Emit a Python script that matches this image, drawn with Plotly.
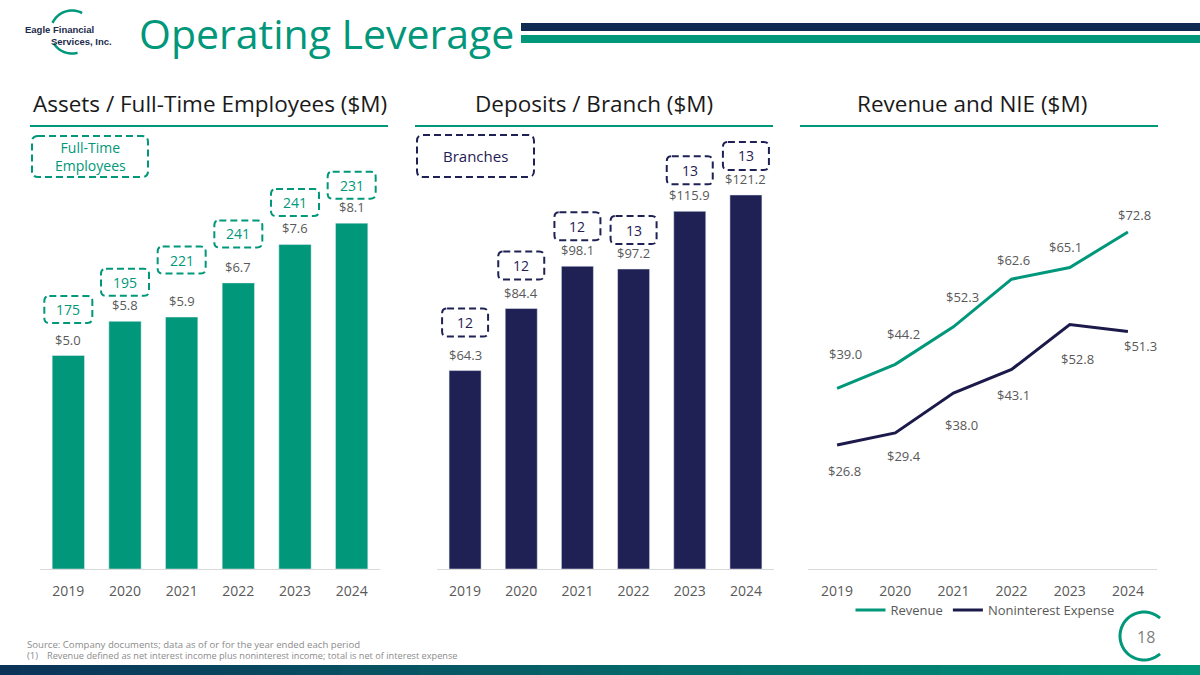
import math
import plotly.graph_objects as go

# ---------------- data ----------------
years = ["2019", "2020", "2021", "2022", "2023", "2024"]
assets_per_fte = [5.0, 5.8, 5.9, 6.7, 7.6, 8.1]
fte_counts = [175, 195, 221, 241, 241, 231]
deposits_per_branch = [64.3, 84.4, 98.1, 97.2, 115.9, 121.2]
branch_counts = [12, 12, 12, 13, 13, 13]
revenue = [39.0, 44.2, 52.3, 62.6, 65.1, 72.8]
nonint_expense = [26.8, 29.4, 38.0, 43.1, 52.8, 51.3]

# ---------------- styles / label placement (pixels) ----------------
fte_box_lift = [46, 39, 57, 49, 42, 38]
branch_box_lift = [48, 43, 40, 39, 41, 39]
rev_label_shift = [(8, 34), (8, 30), (9, 30), (2, 19), (-4, 21), (7, 17)]
nie_label_shift = [(7, -26), (9, -23), (8, -32), (2, -26), (8, -34), (13, -15)]

W, H = 1200, 675
TEAL = "#00977A"
NAVY = "#1F2155"
LINE_NAVY = "#1B1A4A"
HEAD_NAVY = "#0E2B52"
GRAY = "#595959"
FONT = "Open Sans"


def px(x):
    return x / W


def py(y):
    return 1 - y / H


def rrect_path(cx, cy, w, h, r):
    x0, x1 = cx - w / 2, cx + w / 2
    y0, y1 = cy - h / 2, cy + h / 2
    return (f"M {x0 + r},{y1} L {x1 - r},{y1} Q {x1},{y1} {x1},{y1 - r} "
            f"L {x1},{y0 + r} Q {x1},{y0} {x1 - r},{y0} L {x0 + r},{y0} "
            f"Q {x0},{y0} {x0},{y0 + r} L {x0},{y1 - r} Q {x0},{y1} {x0 + r},{y1} Z")


def arc_path(r, a0, a1, n=40):
    pts = []
    for i in range(n + 1):
        a = math.radians(a0 + (a1 - a0) * i / n)
        pts.append((r * math.cos(a), r * math.sin(a)))
    return "M " + " L ".join(f"{x:.2f},{y:.2f}" for x, y in pts)


def paper_text(x, y, text, size, color, xanchor="center", family=FONT):
    return dict(x=px(x), y=py(y), xref="paper", yref="paper", text=text, showarrow=False,
                xanchor=xanchor, yanchor="middle", font=dict(size=size, color=color, family=family))


idx = list(range(len(years)))
fig = go.Figure()

# Panel 1 bars
fig.add_trace(go.Bar(x=idx, y=assets_per_fte, marker_color=TEAL, showlegend=False,
                     xaxis="x", yaxis="y", hoverinfo="skip"))
# Panel 2 bars
fig.add_trace(go.Bar(x=idx, y=deposits_per_branch, marker_color=NAVY, showlegend=False,
                     xaxis="x2", yaxis="y2", hoverinfo="skip"))
# Panel 3 lines
fig.add_trace(go.Scatter(x=idx, y=revenue, mode="lines", name="Revenue",
                         line=dict(color=TEAL, width=3), xaxis="x3", yaxis="y3"))
fig.add_trace(go.Scatter(x=idx, y=nonint_expense, mode="lines", name="Noninterest Expense",
                         line=dict(color=LINE_NAVY, width=3), xaxis="x3", yaxis="y3"))

annotations = []
shapes = []

# bar value labels
for xa, ya, vals in (("x", "y", assets_per_fte), ("x2", "y2", deposits_per_branch)):
    for i, v in zip(idx, vals):
        annotations.append(dict(x=i, y=v, xref=xa, yref=ya, text=f"${v:.1f}",
                                showarrow=False, xanchor="center", yanchor="bottom", yshift=5,
                                font=dict(size=13, color=GRAY, family=FONT)))

DASH = "7px,4px"

# FTE count boxes
for i, v, n, lift in zip(idx, assets_per_fte, fte_counts, fte_box_lift):
    shapes.append(dict(type="path", xref="x", yref="y", xsizemode="pixel", ysizemode="pixel",
                       xanchor=i, yanchor=v, path=rrect_path(0, lift, 48, 27, 5),
                       line=dict(color=TEAL, width=2, dash=DASH), layer="above"))
    annotations.append(dict(x=i, y=v, xref="x", yref="y", text=str(n), showarrow=False,
                            xanchor="center", yanchor="middle", yshift=lift,
                            font=dict(size=14, color=TEAL, family=FONT)))

# Branch count boxes
for i, v, n, lift in zip(idx, deposits_per_branch, branch_counts, branch_box_lift):
    shapes.append(dict(type="path", xref="x2", yref="y2", xsizemode="pixel", ysizemode="pixel",
                       xanchor=i, yanchor=v, path=rrect_path(0, lift, 46, 28, 5),
                       line=dict(color=NAVY, width=2, dash=DASH), layer="above"))
    annotations.append(dict(x=i, y=v, xref="x2", yref="y2", text=str(n), showarrow=False,
                            xanchor="center", yanchor="middle", yshift=lift,
                            font=dict(size=14, color=NAVY, family=FONT)))

# line labels
for series, shifts in ((revenue, rev_label_shift), (nonint_expense, nie_label_shift)):
    for i, v, (dx, dy) in zip(idx, series, shifts):
        annotations.append(dict(x=i, y=v, xref="x3", yref="y3", text=f"${v:.1f}", showarrow=False,
                                xanchor="center", yanchor="middle", xshift=dx, yshift=dy,
                                font=dict(size=13, color=GRAY, family=FONT)))

# legend-like boxes
shapes.append(dict(type="path", xref="paper", yref="paper", xsizemode="pixel", ysizemode="pixel",
                   xanchor=px(90), yanchor=py(156.5), path=rrect_path(0, 0, 116, 41, 6),
                   line=dict(color=TEAL, width=2, dash=DASH)))
annotations.append(paper_text(90, 156.5, "Full-Time<br>Employees", 14, TEAL))
shapes.append(dict(type="path", xref="paper", yref="paper", xsizemode="pixel", ysizemode="pixel",
                   xanchor=px(475.5), yanchor=py(156), path=rrect_path(0, 0, 117, 42, 6),
                   line=dict(color=NAVY, width=2, dash=DASH)))
annotations.append(paper_text(475.5, 156, "Branches", 15, NAVY))

# header
annotations.append(paper_text(137, 33, "Operating Leverage", 41, TEAL, xanchor="left"))
shapes.append(dict(type="rect", xref="paper", yref="paper", x0=px(521), x1=1, y0=py(31), y1=py(23),
                   fillcolor=HEAD_NAVY, line=dict(width=0)))
shapes.append(dict(type="rect", xref="paper", yref="paper", x0=px(521), x1=1, y0=py(43), y1=py(35),
                   fillcolor=TEAL, line=dict(width=0)))

# logo
for a0, a1 in ((62, 155), (212, 285)):
    shapes.append(dict(type="path", xref="paper", yref="paper", xsizemode="pixel", ysizemode="pixel",
                       xanchor=px(72), yanchor=py(32), path=arc_path(21.5, a0, a1),
                       line=dict(color=TEAL, width=2.5)))
annotations.append(paper_text(23, 30, "<b>Eagle Financial</b>", 9.5, "#1C2B4A", "left",
                              "Liberation Sans"))
annotations.append(paper_text(49, 41, "<b>Services, Inc.</b>", 9.5, "#1C2B4A", "left",
                              "Liberation Sans"))

# section titles + underlines
for cx, t, (l, r) in ((210, "Assets / Full-Time Employees ($M)", (30, 388)),
                      (594, "Deposits / Branch ($M)", (415, 773)),
                      (972, "Revenue and NIE ($M)", (800, 1158))):
    annotations.append(paper_text(cx, 104, t, 22.5, "#1A1A1A"))
    shapes.append(dict(type="line", xref="paper", yref="paper", x0=px(l), x1=px(r),
                       y0=py(126), y1=py(126), line=dict(color=TEAL, width=2)))

# footer
annotations.append(paper_text(25, 644, "Source: Company documents; data as of or for the year ended each period",
                              9.6, "#8C8C8C", "left"))
annotations.append(paper_text(25, 655.5, "(1)", 9.6, "#8C8C8C", "left"))
annotations.append(paper_text(45, 655.5,
                              "Revenue defined as net interest income plus noninterest income; total is net of interest expense",
                              9.2, "#8C8C8C", "left"))

# page number + arc
shapes.append(dict(type="path", xref="paper", yref="paper", xsizemode="pixel", ysizemode="pixel",
                   xanchor=px(1144), yanchor=py(636), path=arc_path(24, 48, 312),
                   line=dict(color=TEAL, width=3)))
annotations.append(paper_text(1146, 637, "18", 16, "#7F7F7F"))

# bottom gradient bar
c0 = (0x0B, 0x33, 0x58)
c1 = (0x00, 0x97, 0x7A)
N = 60
for k in range(N):
    t = k / (N - 1)
    col = tuple(round(c0[j] + (c1[j] - c0[j]) * t) for j in range(3))
    shapes.append(dict(type="rect", xref="paper", yref="paper", x0=k / N, x1=(k + 1) / N + 0.001,
                       y0=0, y1=py(665), fillcolor="rgb(%d,%d,%d)" % col, line=dict(width=0)))

axis_x = dict(tickmode="array", tickvals=idx, ticktext=years, range=[-0.5, len(years) - 0.5],
              showgrid=False, zeroline=False, showline=True, linecolor="#D9D9D9",
              linewidth=1, ticks="", ticklabelstandoff=9,
              tickfont=dict(size=14, color=GRAY, family=FONT), fixedrange=True)
axis_y = dict(visible=False, showgrid=False, zeroline=False, fixedrange=True)

fig.update_layout(
    width=W, height=H, margin=dict(l=0, r=0, t=0, b=0),
    paper_bgcolor="white", plot_bgcolor="white",
    bargap=0.43,
    xaxis=dict(axis_x, domain=[px(40), px(380)], anchor="y"),
    yaxis=dict(axis_y, domain=[py(569), py(140)], range=[0, 429 / 42.7], anchor="x"),
    xaxis2=dict(axis_x, domain=[px(437), px(774)], anchor="y2"),
    yaxis2=dict(axis_y, domain=[py(569), py(140)], range=[0, 429 / 3.086], anchor="x2"),
    xaxis3=dict(axis_x, domain=[px(808), px(1157)], anchor="y3"),
    yaxis3=dict(axis_y, domain=[py(569), py(140)], range=[0, 429 / 4.63], anchor="x3"),
    legend=dict(orientation="h", x=px(985), xanchor="center", y=py(610), yanchor="middle",
                font=dict(size=13, color=GRAY, family=FONT), bgcolor="rgba(0,0,0,0)"),
    shapes=shapes, annotations=annotations,
    font=dict(family=FONT),
)

fig.write_html("out.html", config={"displayModeBar": False},
               post_script="document.body.style.margin='0';")
